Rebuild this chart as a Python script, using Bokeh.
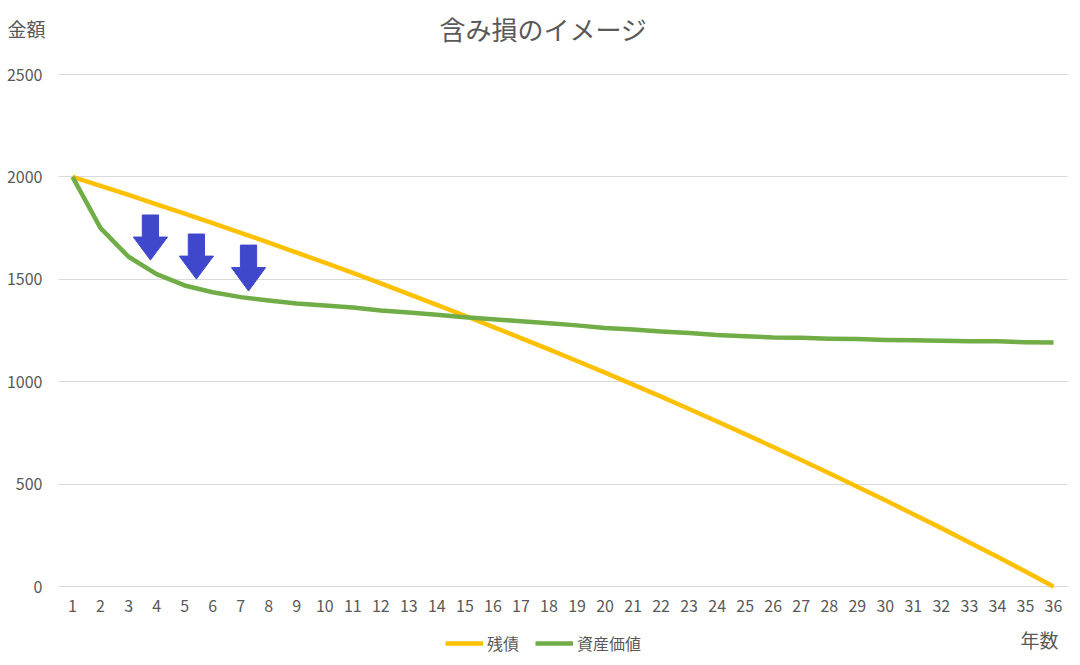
from bokeh.plotting import figure
from bokeh.models import (Legend, LegendItem, Label, FixedTicker, Range1d,
                          ColumnDataSource, LinearAxis)
from bokeh.embed import file_html
from bokeh.resources import INLINE

# ---- data ----
years = list(range(1, 37))
debt = [2000, 1956, 1912, 1866, 1821, 1774, 1727, 1679, 1630, 1581,
        1531, 1480, 1428, 1375, 1322, 1268, 1213, 1158, 1101, 1044,
        986, 927, 867, 806, 744, 681, 618, 553, 487, 421,
        353, 285, 215, 145, 73, 0]
asset = [2000, 1750, 1610, 1525, 1470, 1437, 1413, 1396, 1382, 1372,
         1362, 1348, 1338, 1327, 1315, 1305, 1295, 1285, 1275, 1262,
         1255, 1245, 1238, 1228, 1222, 1216, 1214, 1210, 1208, 1204,
         1203, 1200, 1198, 1197, 1193, 1192]
y_ticks = [0, 500, 1000, 1500, 2000, 2500]
series_names = ["残債", "資産価値"]
title_text = "含み損のイメージ"
y_title = "金額"
x_title = "年数"

# arrow annotations (year position, top value, tip value)
arrow_x = [3.78, 5.42, 7.28]
arrow_top = [1814, 1721, 1667]
arrow_tip = [1594, 1501, 1443]

FONT = "Noto Sans CJK JP"
GRAY = "#595959"
YELLOW = "#FFC000"
GREEN = "#70AD47"
BLUE = "#3F48CC"

W, H = 1080, 665
# plot area of the chart in page pixels
PL, PR, PT, PB = 58, 1067, 74, 586
xs_per_px = (36.5 - 0.5) / (PR - PL)
ys_per_px = (2500 - 0) / (PB - PT)
x_range = Range1d(0.5 - PL * xs_per_px, 36.5 + (W - PR) * xs_per_px)
y_range = Range1d(0 - (H - PB) * ys_per_px, 2500 + PT * ys_per_px)

p = figure(width=W, height=H, output_backend="svg", toolbar_location=None,
           x_range=x_range, y_range=y_range,
           x_axis_location=None, y_axis_location=None,
           min_border=0, min_border_left=0, min_border_right=0,
           min_border_top=0, min_border_bottom=0)
p.outline_line_color = None
p.background_fill_color = "white"
p.border_fill_color = "white"

# axes drawn at the plot-area edges
xaxis = LinearAxis(ticker=FixedTicker(ticks=years), fixed_location=0)
yaxis = LinearAxis(ticker=FixedTicker(ticks=y_ticks), fixed_location=0.5)
for ax in (xaxis, yaxis):
    ax.axis_line_color = None
    ax.major_tick_line_color = None
    ax.minor_tick_line_color = None
    ax.major_tick_out = 0
    ax.major_tick_in = 0
    ax.minor_tick_out = 0
    ax.minor_tick_in = 0
    ax.major_label_text_font = FONT
    ax.major_label_text_font_size = "16px"
    ax.major_label_text_color = GRAY
xaxis.major_label_standoff = 13
yaxis.major_label_standoff = 16
p.add_layout(xaxis, "below")
p.add_layout(yaxis, "left")

# horizontal grid lines only across the plot area
try:
    p.ygrid.ticker = FixedTicker(ticks=y_ticks)
    p.ygrid.grid_line_color = "#D9D9D9"
    p.ygrid.grid_line_width = 1
    p.ygrid.cross_bounds = (0.5, 36.5)
    p.xgrid.grid_line_color = None
except Exception:
    p.ygrid.grid_line_color = None
    p.xgrid.grid_line_color = None
    p.segment(x0=[0.5] * len(y_ticks), x1=[36.5] * len(y_ticks),
              y0=y_ticks, y1=y_ticks, line_color="#D9D9D9", line_width=1)

# arrows
shaft_hw = 0.29
head_hw = 0.61
axs, ays = [], []
for ax_, top, tip in zip(arrow_x, arrow_top, arrow_tip):
    hs = top - 0.49 * (top - tip)
    axs.append([ax_ - shaft_hw, ax_ + shaft_hw, ax_ + shaft_hw, ax_ + head_hw,
                ax_, ax_ - head_hw, ax_ - shaft_hw])
    ays.append([top, top, hs, hs, tip, hs, hs])
p.patches(axs, ays, fill_color=BLUE, line_color=BLUE, line_width=1)

src = ColumnDataSource(dict(x=years, debt=debt, asset=asset))
r1 = p.line("x", "debt", source=src, line_color=YELLOW, line_width=4.5, line_join="round")
r2 = p.line("x", "asset", source=src, line_color=GREEN, line_width=4.5, line_join="round")

legend = Legend(items=[LegendItem(label=series_names[0], renderers=[r1]),
                       LegendItem(label=series_names[1], renderers=[r2])],
                orientation="horizontal", location=(445, 10),
                padding=0, margin=0, spacing=16, label_standoff=4,
                glyph_width=38, glyph_height=20, label_height=20,
                label_text_font=FONT, label_text_font_size="16px",
                label_text_color=GRAY, border_line_color=None,
                background_fill_alpha=0)
p.add_layout(legend, "center")

p.add_layout(Label(x=17.8, y=2725, text=title_text, text_font=FONT,
                   text_font_size="26px", text_color=GRAY,
                   text_align="center", text_baseline="middle"))
p.add_layout(Label(x=-1.32, y=2725, text=y_title, text_font=FONT,
                   text_font_size="19px", text_color=GRAY,
                   text_align="left", text_baseline="middle"))
p.add_layout(Label(x=36.18, y=-259, text=x_title, text_font=FONT,
                   text_font_size="19px", text_color=GRAY,
                   text_align="right", text_baseline="middle"))

open("out.html", "w").write(file_html(p, INLINE))
